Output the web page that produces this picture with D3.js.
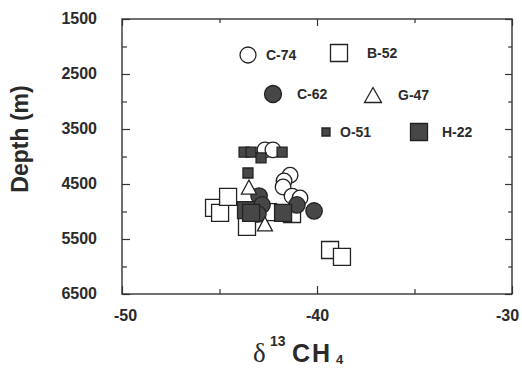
<!DOCTYPE html>
<html>
<head>
<meta charset="utf-8">
<script src="https://cdn.jsdelivr.net/npm/d3@7"></script>
<style>
  body { margin: 0; background: #fff; }
  text { font-family: "Liberation Sans", Arial, Helvetica, sans-serif; fill: #2a2a2a; }
</style>
</head>
<body>
<div id="chart"></div>
<script>
// δ13C of methane (x) against depth in metres (y), one array pair per well
const c74X = [-42.67, -42.26, -41.38, -41.69, -41.74, -41.28, -40.87]
const c74Depth = [3880, 3880, 4340, 4445, 4555, 4720, 4755]

const b52X = [-45.28, -44.97, -44.56, -43.59, -42.51, -41.28, -39.33, -38.72]
const b52Depth = [4935, 5025, 4735, 5280, 5010, 5045, 5700, 5825]

const c62X = [-42.97, -42.82, -43.03, -41.03, -40.15]
const c62Depth = [4720, 4880, 5045, 4880, 4990]

const g47X = [-43.49, -42.67]
const g47Depth = [4555, 5225]

const o51X = [-43.74, -43.38, -42.87, -41.79, -43.54]
const o51Depth = [3920, 3920, 4025, 3920, 4300]

const h22X = [-43.64, -43.38, -41.74]
const h22Depth = [4975, 5025, 5025]

const xDomain = [-50, -30]
const yDomain = [1500, 6500]
const xMajorTicks = [-50, -40, -30]
const xMinorTicks = [-45, -35]
const yMajorTicks = [1500, 2500, 3500, 4500, 5500, 6500]
const yMinorTicks = [2000, 3000, 4000, 5000, 6000]

const width = 522
const height = 368
const plotLeft = 122, plotRight = 512, plotTop = 19, plotBottom = 294
const ink = '#222'
const darkFill = '#474747'

const x = d3.scaleLinear().domain(xDomain).range([plotLeft, plotRight])
const y = d3.scaleLinear().domain(yDomain).range([plotTop, plotBottom])

const svg = d3.select('#chart')
  .append('svg')
  .attr('width', width)
  .attr('height', height)

// frame
svg.append('rect')
  .attr('x', plotLeft)
  .attr('y', plotTop)
  .attr('width', plotRight - plotLeft)
  .attr('height', plotBottom - plotTop)
  .attr('fill', 'none')
  .attr('stroke', '#333')
  .attr('stroke-width', 1.4)

const styleAxis = g => {
  g.select('.domain').remove()
  g.selectAll('line').attr('stroke', '#333').attr('stroke-width', 1.2)
  g.selectAll('text')
    .attr('font-size', 16)
    .attr('font-weight', 'bold')
    .attr('fill', '#2a2a2a')
}

// plain hyphen minus, like the original
const plain = d => String(d)

// x axis, bottom with labels, top ticks only
svg.append('g')
  .attr('transform', `translate(0,${plotBottom})`)
  .call(d3.axisBottom(x).tickValues(xMajorTicks).tickSize(-8).tickPadding(16).tickFormat(plain))
  .call(styleAxis)
  .call(g => g.selectAll('.tick text')
    .attr('dx', d => d === -30 ? -5 : (d === -50 ? 3 : 0)))
svg.append('g')
  .attr('transform', `translate(0,${plotBottom})`)
  .call(d3.axisBottom(x).tickValues(xMinorTicks).tickSize(-5).tickFormat(''))
  .call(styleAxis)
svg.append('g')
  .attr('transform', `translate(0,${plotTop})`)
  .call(d3.axisTop(x).tickValues(xMajorTicks).tickSize(-7).tickFormat(''))
  .call(styleAxis)
svg.append('g')
  .attr('transform', `translate(0,${plotTop})`)
  .call(d3.axisTop(x).tickValues(xMinorTicks).tickSize(-4).tickFormat(''))
  .call(styleAxis)

// y axis, left with labels, right ticks only
svg.append('g')
  .attr('transform', `translate(${plotLeft},0)`)
  .call(d3.axisLeft(y).tickValues(yMajorTicks).tickSize(-8).tickPadding(25).tickFormat(plain))
  .call(styleAxis)
  .call(g => g.selectAll('.tick text').attr('dy', '0.25em'))
svg.append('g')
  .attr('transform', `translate(${plotLeft},0)`)
  .call(d3.axisLeft(y).tickValues(yMinorTicks).tickSize(-5).tickFormat(''))
  .call(styleAxis)
svg.append('g')
  .attr('transform', `translate(${plotRight},0)`)
  .call(d3.axisRight(y).tickValues(yMajorTicks).tickSize(-7).tickFormat(''))
  .call(styleAxis)
svg.append('g')
  .attr('transform', `translate(${plotRight},0)`)
  .call(d3.axisRight(y).tickValues(yMinorTicks).tickSize(-4).tickFormat(''))
  .call(styleAxis)

// marker shapes
const circlePath = r => d3.symbol(d3.symbolCircle, Math.PI * r * r)()
const squarePath = s => d3.symbol(d3.symbolSquare, s * s)()
const trianglePath = (w, h) => `M0,${-h / 2}L${w / 2},${h / 2}L${-w / 2},${h / 2}Z`

const series = [
  { name: 'C-74', xs: c74X, ys: c74Depth, path: circlePath(7.8), fill: '#fff' },
  { name: 'B-52', xs: b52X, ys: b52Depth, path: squarePath(17), fill: '#fff' },
  { name: 'C-62', xs: c62X, ys: c62Depth, path: circlePath(8.2), fill: darkFill },
  { name: 'G-47', xs: g47X, ys: g47Depth, path: trianglePath(15, 14), fill: '#fff' },
  { name: 'O-51', xs: o51X, ys: o51Depth, path: squarePath(10), fill: darkFill },
  { name: 'H-22', xs: h22X, ys: h22Depth, path: squarePath(17), fill: darkFill }
]

series.forEach(s => {
  svg.append('g')
    .selectAll('path')
    .data(s.xs.map((v, i) => [v, s.ys[i]]))
    .enter()
    .append('path')
    .attr('d', s.path)
    .attr('transform', d => `translate(${x(d[0])},${y(d[1])})`)
    .attr('fill', s.fill)
    .attr('stroke', ink)
    .attr('stroke-width', 1.3)
})

// legend
const legend = [
  { name: 'C-74', sx: 248, sy: 55, tx: 266, path: circlePath(8), fill: '#fff' },
  { name: 'B-52', sx: 339, sy: 53, tx: 367, path: squarePath(17), fill: '#fff' },
  { name: 'C-62', sx: 273, sy: 94, tx: 297, path: circlePath(8.5), fill: darkFill },
  { name: 'G-47', sx: 373, sy: 95, tx: 398, path: trianglePath(17, 15), fill: '#fff' },
  { name: 'O-51', sx: 326, sy: 132, tx: 340, path: squarePath(8), fill: darkFill },
  { name: 'H-22', sx: 419, sy: 132, tx: 442, path: squarePath(17), fill: darkFill }
]

const item = svg.append('g').selectAll('g')
  .data(legend)
  .enter()
  .append('g')

item.append('path')
  .attr('d', d => d.path)
  .attr('transform', d => `translate(${d.sx},${d.sy})`)
  .attr('fill', d => d.fill)
  .attr('stroke', ink)
  .attr('stroke-width', 1.3)

item.append('text')
  .attr('x', d => d.tx)
  .attr('y', d => d.sy + 5)
  .attr('font-size', 14)
  .attr('font-weight', 'bold')
  .text(d => d.name)

// axis titles
svg.append('text')
  .attr('transform', 'translate(28,139) rotate(-90)')
  .attr('text-anchor', 'middle')
  .attr('font-size', 23)
  .attr('font-weight', 'bold')
  .text('Depth (m)')

const xt = svg.append('g')
xt.append('text')
  .attr('x', 253)
  .attr('y', 362)
  .style('font-family', '"Liberation Serif", "Times New Roman", serif')
  .attr('font-size', 27)
  .text('δ')
xt.append('text')
  .attr('x', 270)
  .attr('y', 346)
  .attr('font-size', 14)
  .attr('font-weight', 'bold')
  .text('13')
xt.append('text')
  .attr('x', 292)
  .attr('y', 362)
  .attr('font-size', 25)
  .attr('font-weight', 'bold')
  .attr('letter-spacing', 2)
  .text('CH')
xt.append('text')
  .attr('x', 336)
  .attr('y', 364)
  .attr('font-size', 13)
  .attr('font-weight', 'bold')
  .text('4')
</script>
</body>
</html>
